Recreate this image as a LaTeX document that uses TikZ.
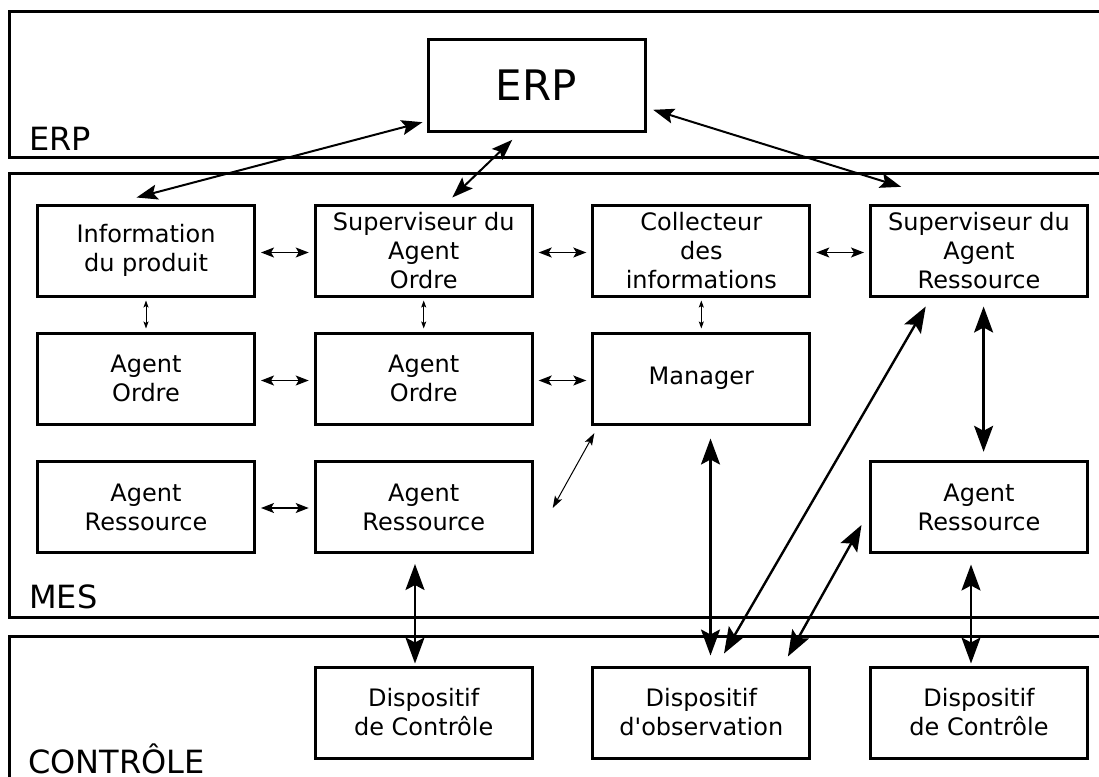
\documentclass[tikz,border=0pt]{standalone}
\usepackage{fontspec}
\newfontfamily\djv{DejaVu Sans}
\usetikzlibrary{arrows.meta,calc}
\begin{document}
\begin{tikzpicture}[x=1pt,y=-1pt,
  box/.style={draw,line width=3pt,minimum width=217pt,minimum height=91pt,inner sep=0pt,align=center,font=\djv\fontsize{24}{29}\selectfont},
  layer/.style={draw,line width=3pt},
  layerlabel/.style={anchor=base west,inner sep=0pt,font=\djv\fontsize{32}{38}\selectfont},
  bigarr/.style={line width=2.4pt,{Stealth[length=26pt,width=19pt,inset=5pt]}-{Stealth[length=26pt,width=19pt,inset=5pt]}},
  midarr/.style={line width=2pt,{Stealth[length=21pt,width=15pt,inset=4pt]}-{Stealth[length=21pt,width=15pt,inset=4pt]}},
  smallarr/.style={line width=1.3pt,{Stealth[length=13pt,width=10pt,inset=3pt]}-{Stealth[length=13pt,width=10pt,inset=3pt]}},
  tinyarr/.style={line width=0.9pt,{Stealth[length=7pt,width=5pt,inset=1.5pt]}-{Stealth[length=7pt,width=5pt,inset=1.5pt]}},
  diagarr/.style={line width=1pt,{Stealth[length=12pt,width=8pt,inset=2.5pt]}-{Stealth[length=12pt,width=8pt,inset=2.5pt]}}
]
\useasboundingbox (0,0) rectangle (1099,776);
\clip (0,0) rectangle (1099,776);
\fill[white] (0,0) rectangle (1099,776);

% layers
\draw[layer] (9,12) rectangle (1120,157);
\draw[layer] (9,173) rectangle (1120,617);
\draw[layer] (9,636) rectangle (1120,800);
\node[layerlabel] (lerp) at (29,150) {ERP};
\node[layerlabel] (lmes) at (29,608) {MES};
\node[layerlabel] (lctl) at (28,773) {CONTRÔLE};

% boxes
\node[box,font=\djv\fontsize{42}{48}\selectfont] (erp) at (536.5,85.5) {ERP};
\node[box] (info) at (146,250.5) {Information\\du produit};
\node[box] (supo) at (423.7,250.5) {Superviseur du\\Agent\\Ordre};
\node[box] (coll) at (701.3,250.5) {Collecteur\\des\\informations};
\node[box] (supr) at (979,250.5) {Superviseur du\\Agent\\Ressource};
\node[box] (ao1) at (146,378.5) {Agent\\Ordre};
\node[box] (ao2) at (423.7,378.5) {Agent\\Ordre};
\node[box] (man) at (701.3,378.5) {Manager};
\node[box] (ar1) at (146,507) {Agent\\Ressource};
\node[box] (ar2) at (423.7,507) {Agent\\Ressource};
\node[box] (ar3) at (979,507) {Agent\\Ressource};
\node[box] (dc1) at (423.7,712.5) {Dispositif\\de Contrôle};
\node[box] (dobs) at (701.3,712.5) {Dispositif\\d'observation};
\node[box] (dc2) at (979,712.5) {Dispositif\\de Contrôle};

% ERP connectors
\draw[midarr] ($(info.north)+(-9.4,-6)$) -- ($(erp.south west)+(-4,-10.3)$);
\draw[midarr] ($(erp.south)+(-24.2,7.3)$) -- ($(supo.north)+(28.6,-6)$);
\draw[midarr] ($(erp.south east)+(6.7,-22.7)$) -- ($(supr.north west)+(32.1,-16.7)$);

% small horizontal connectors
\draw[smallarr] ($(info.east)+(5,2)$) -- ($(supo.west)+(-5,2)$);
\draw[smallarr] ($(supo.east)+(5,2)$) -- ($(coll.west)+(-5,2)$);
\draw[smallarr] ($(coll.east)+(5,2)$) -- ($(supr.west)+(-5,2)$);
\draw[smallarr] ($(ao1.east)+(5,2)$) -- ($(ao2.west)+(-5,2)$);
\draw[smallarr] ($(ao2.east)+(5,2)$) -- ($(man.west)+(-5,2)$);
\draw[smallarr] ($(ar1.east)+(5,1)$) -- ($(ar2.west)+(-5,1)$);

% tiny vertical connectors
\draw[tinyarr] ($(info.south)+(0,3)$) -- ($(ao1.north)+(0,-3)$);
\draw[tinyarr] ($(supo.south)+(0,3)$) -- ($(ao2.north)+(0,-3)$);
\draw[tinyarr] ($(coll.south)+(0,3)$) -- ($(man.north)+(0,-3)$);

% manager diagonal
\draw[diagarr] ($(man.south west)+(3,7.7)$) -- ($(ar2.east)+(19,1)$);

% big connectors
\draw[bigarr] ($(ar2.south)+(-8.7,10)$) -- ($(dc1.north)+(-8.7,-2)$);
\draw[bigarr] ($(man.south)+(9.2,13)$) -- ($(dobs.north)+(9.2,-10)$);
\draw[bigarr] ($(supr.south)+(-53.3,9)$) -- ($(dobs.north)+(22.7,-12)$);
\draw[bigarr] ($(ar3.west)+(-7.5,18)$) -- ($(dobs.north east)+(-23.4,-9)$);
\draw[bigarr] ($(supr.south)+(4.6,9)$) -- ($(ar3.north)+(4.6,-8.2)$);
\draw[bigarr] ($(ar3.south)+(-8,10.5)$) -- ($(dc2.north)+(-8,-2)$);
\end{tikzpicture}
\end{document}
